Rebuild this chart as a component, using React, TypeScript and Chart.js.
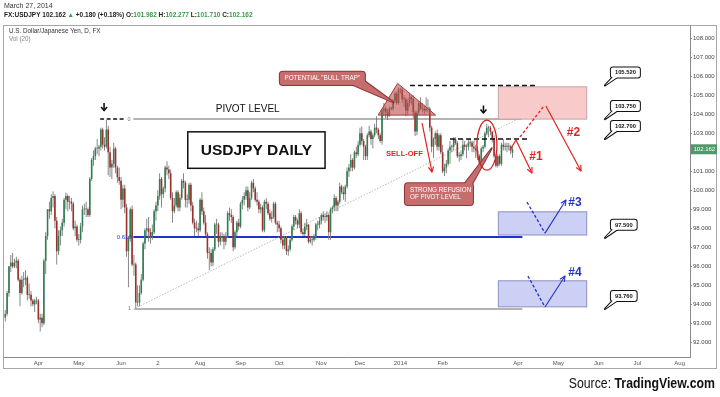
import React, { useEffect, useRef } from "react";
import { Chart, registerables } from "chart.js";

Chart.register(...registerables);

// ---------- DATA ----------
// bar index 0 = 1 Apr 2013 (one bar per weekday); first bar = 6 Mar 2013
const firstBarIndex = -18;

const opens = [
  // Mar 2013
  93.30,93.50,94.60,96.00,96.20,96.00,96.20,96.30,95.30,94.60,95.30,95.30,95.40,94.50,94.50,94.20,94.00,94.20,
  // Apr
  94.20,93.20,93.30,93.00,96.30,97.60,99.00,98.90,99.60,99.70,98.40,96.80,97.60,97.90,98.30,99.50,99.70,99.40,99.40,99.30,98.00,98.10,
  // May
  97.40,97.40,98.10,99.00,99.00,99.00,98.70,100.60,101.60,101.80,102.20,102.20,102.30,103.20,102.40,102.30,103.20,102.00,101.20,101.40,102.20,101.20,100.70,
  // Jun
  100.50,99.50,100.10,99.10,96.80,97.50,99.00,96.10,96.10,94.10,94.10,94.60,95.30,97.20,97.90,98.00,97.80,97.60,97.80,98.90,
  // Jul
  99.20,99.70,100.60,99.80,100.10,101.20,101.10,100.90,99.60,98.90,99.20,99.90,99.10,99.60,100.50,100.40,99.50,99.50,100.30,99.20,98.30,98.00,98.00,
  // Aug
  97.90,99.50,98.90,98.30,97.70,96.70,96.70,96.20,96.90,98.20,98.20,97.30,97.50,97.60,97.30,97.60,98.80,98.70,98.60,97.00,97.80,98.30,
  // Sep
  98.10,99.30,99.50,99.70,100.00,99.10,99.60,100.40,100.10,99.50,99.40,99.00,99.10,97.90,99.40,99.30,98.80,98.50,98.60,99.30,98.30,
  // Oct
  98.20,98.00,97.40,97.10,97.50,96.80,96.90,97.40,98.10,98.60,98.40,98.20,98.80,97.80,97.70,98.10,98.20,97.30,97.40,97.40,97.50,98.20,98.20,
  // Nov
  98.40,98.70,98.60,98.60,98.70,97.80,99.00,99.10,99.60,99.20,99.40,100.20,99.90,99.80,100.20,101.00,101.20,101.60,101.20,102.00,101.90,
  // Dec
  102.40,103.00,102.60,102.30,101.80,102.90,103.10,102.70,102.90,103.30,103.20,102.90,102.60,104.20,104.30,104.10,103.90,104.30,104.30,104.70,105.10,104.60,
  // Jan 2014
  105.30,105.30,104.80,104.80,104.20,104.60,104.90,104.80,104.10,103.10,104.10,104.60,104.30,104.30,104.20,104.30,104.30,103.30,102.30,102.70,103.00,102.30,102.90,
  // Feb
  102.00,101.00,101.20,101.40,102.10,102.30,102.30,102.70,102.50,101.80,101.80,101.90,102.40,102.30,102.30,102.50,102.50,102.30,102.20,102.10,
  // Mar
  101.80,101.40,102.20,102.30,103.00,103.30,103.30,103.10,102.70,101.80,101.30,101.80,101.40,102.40,102.30,102.30,102.30,102.30,101.98,
];

const highs = [
  93.70,94.70,96.00,96.60,96.70,96.40,96.50,96.40,95.40,95.50,95.70,95.80,95.50,95.10,94.70,94.30,94.30,94.40,
  94.30,93.50,93.50,96.40,97.80,99.00,99.40,99.80,99.95,99.80,98.60,97.90,98.10,98.50,99.60,99.89,99.80,99.70,99.60,99.40,98.40,98.20,
  97.70,98.30,99.20,99.30,99.40,99.10,100.70,101.70,102.10,102.30,102.70,102.40,103.30,103.30,102.80,103.70,103.40,102.30,101.60,102.50,102.30,101.30,101.20,
  100.70,100.30,100.30,99.30,97.60,99.10,99.20,96.60,96.20,95.00,95.00,95.60,97.30,98.00,98.50,98.60,98.00,98.20,99.00,99.40,
  100.00,100.90,100.70,100.20,101.30,101.53,101.30,101.10,99.90,99.60,100.00,100.00,99.80,100.60,100.90,100.50,99.80,100.40,100.40,99.40,98.50,98.40,98.30,
  99.60,99.90,99.10,98.70,97.80,97.00,96.90,97.00,98.30,98.50,98.30,97.80,97.80,97.70,97.80,98.90,99.10,99.00,98.70,97.90,98.40,98.50,
  99.40,99.70,99.90,100.20,100.20,99.90,100.50,100.60,100.20,99.90,99.50,99.30,99.20,99.50,99.60,99.40,99.00,98.90,99.40,99.40,98.40,
  98.40,98.10,97.60,97.60,97.60,97.10,97.50,98.20,98.70,98.70,98.50,99.00,98.90,98.00,98.30,98.50,98.20,97.60,97.60,97.70,98.30,98.40,98.60,
  98.80,98.90,98.80,98.90,98.80,99.10,99.20,99.80,99.70,99.50,100.40,100.30,100.20,100.30,101.20,101.40,101.90,101.70,102.10,102.30,102.60,
  103.30,103.38,102.70,102.40,103.00,103.40,103.20,103.00,103.50,103.90,103.30,103.00,104.30,104.60,104.40,104.30,104.40,104.40,104.80,105.20,105.20,105.40,
  105.40,105.44,105.00,104.90,104.80,105.10,105.00,105.00,104.20,104.20,104.70,104.90,104.60,104.50,104.90,104.80,104.40,103.40,102.80,103.10,103.20,103.00,103.00,
  102.40,101.40,101.60,102.20,102.60,102.40,102.80,102.80,102.60,102.00,102.10,102.70,102.60,102.40,102.70,102.70,102.60,102.60,102.40,102.30,
  101.90,102.30,102.40,103.10,103.50,103.40,103.40,103.10,102.90,101.90,101.90,101.90,102.50,102.70,102.50,102.50,102.50,102.40,102.28,
];

const lows = [
  93.10,93.40,94.40,95.70,95.90,95.90,95.90,95.20,93.90,94.50,94.90,95.00,94.20,94.30,93.90,93.90,93.60,94.00,
  93.00,92.57,92.80,92.90,95.60,97.40,98.50,98.70,99.10,98.00,96.10,96.60,97.10,97.60,98.10,99.00,98.90,99.00,98.90,97.90,97.60,97.30,
  97.10,97.20,97.80,98.70,98.60,98.60,98.60,100.50,101.30,101.60,101.90,101.80,102.10,102.20,102.10,102.20,100.80,100.70,100.60,101.20,100.90,100.40,100.30,
  99.00,99.10,98.80,96.50,94.90,97.30,96.00,95.50,93.80,93.90,93.90,94.50,95.20,96.90,97.60,97.30,97.20,97.40,97.70,98.40,
  98.90,99.50,99.10,99.60,99.90,100.80,100.60,99.50,98.30,98.80,99.10,98.90,98.90,99.50,100.10,99.10,99.10,99.30,98.90,98.20,97.60,97.80,97.60,
  97.80,98.70,98.20,97.60,96.40,95.80,96.00,96.00,96.80,97.70,97.00,97.10,97.30,96.90,97.10,97.50,98.40,98.30,96.80,96.90,97.60,97.90,
  98.00,99.00,99.20,99.50,98.90,99.00,99.50,99.90,99.40,99.20,98.80,98.80,97.80,97.80,99.00,98.70,98.40,98.30,98.50,98.20,97.80,
  97.80,97.20,96.90,96.90,96.60,96.56,96.80,97.30,97.90,98.20,98.00,98.00,97.70,97.60,97.60,97.90,97.20,97.20,97.10,97.30,97.40,97.90,98.00,
  98.20,98.40,98.30,98.40,97.40,97.40,98.80,98.90,98.90,98.90,99.30,99.80,99.50,99.40,100.10,100.70,101.00,101.00,101.10,101.70,101.80,
  102.30,102.40,101.60,101.60,101.60,102.80,102.40,102.20,102.80,103.00,102.70,102.50,102.40,103.90,103.80,103.70,103.90,104.20,104.20,104.60,104.50,104.50,
  105.10,104.60,104.40,103.90,104.00,104.40,104.50,103.80,102.86,102.90,104.00,104.20,104.10,104.00,104.10,104.10,103.10,102.00,101.70,102.40,102.10,102.10,101.90,
  100.90,100.76,100.90,101.30,101.40,102.00,102.10,102.40,101.70,101.50,101.60,101.80,102.10,101.70,102.10,102.30,102.00,102.00,101.70,101.60,
  101.20,101.30,102.00,102.20,102.90,102.80,102.90,102.50,101.70,101.20,101.20,101.30,101.30,102.10,102.10,102.00,102.10,101.90,101.71,
];

const closes = [
  93.50,94.60,96.00,96.20,96.00,96.20,96.30,95.30,94.60,95.30,95.30,95.40,94.50,94.50,94.20,94.00,94.20,94.20,
  93.20,93.30,93.00,96.30,97.60,99.00,98.90,99.60,99.70,98.40,96.80,97.60,97.90,98.30,99.50,99.70,99.40,99.40,99.30,98.00,98.10,97.40,
  97.40,98.10,99.00,99.00,99.00,98.70,100.60,101.60,101.80,102.20,102.20,102.30,103.20,102.40,102.30,103.20,102.00,101.20,101.40,102.20,101.20,100.70,100.50,
  99.50,100.10,99.10,96.80,97.50,99.00,96.10,96.10,94.10,94.10,94.60,95.30,97.20,97.90,98.00,97.80,97.60,97.80,98.90,99.20,
  99.70,100.60,99.80,100.10,101.20,101.10,100.90,99.60,98.90,99.20,99.90,99.10,99.60,100.50,100.40,99.50,99.50,100.30,99.20,98.30,98.00,98.00,97.90,
  99.50,98.90,98.30,97.70,96.70,96.70,96.20,96.90,98.20,98.20,97.30,97.50,97.60,97.30,97.60,98.80,98.70,98.60,97.00,97.80,98.30,98.10,
  99.30,99.50,99.70,100.00,99.10,99.60,100.40,100.10,99.50,99.40,99.00,99.10,97.90,99.40,99.30,98.80,98.50,98.60,99.30,98.30,98.20,
  98.00,97.40,97.10,97.50,96.80,96.90,97.40,98.10,98.60,98.40,98.20,98.80,97.80,97.70,98.10,98.20,97.30,97.40,97.40,97.50,98.20,98.20,98.40,
  98.70,98.60,98.60,98.70,97.80,99.00,99.10,99.60,99.20,99.40,100.20,99.90,99.80,100.20,101.00,101.20,101.60,101.20,102.00,101.90,102.40,
  103.00,102.60,102.30,101.80,102.90,103.10,102.70,102.90,103.30,103.20,102.90,102.60,104.20,104.30,104.10,103.90,104.30,104.30,104.70,105.10,104.60,105.30,
  105.30,104.80,104.80,104.20,104.60,104.90,104.80,104.10,103.10,104.10,104.60,104.30,104.30,104.20,104.30,104.30,103.30,102.30,102.70,103.00,102.30,102.90,102.00,
  101.00,101.20,101.40,102.10,102.30,102.30,102.70,102.50,101.80,101.80,101.90,102.40,102.30,102.30,102.50,102.50,102.30,102.20,102.10,101.80,
  101.40,102.20,102.30,103.00,103.30,103.30,103.10,102.70,101.80,101.30,101.80,101.40,102.40,102.30,102.30,102.30,102.30,102.10,102.16,
];

const monthTickIndex = [0, 22, 45, 65, 88, 110, 131, 154, 175, 197, 220, 261, 283, 305, 326, 349];
const monthTickLabel = ["Apr", "May", "Jun", "2", "Aug", "Sep", "Oct", "Nov", "Dec", "2014", "Feb", "Apr", "May", "Jun", "Jul", "Aug"];
const priceTicks = [92, 93, 94, 95, 96, 97, 98, 99, 100, 101, 102, 103, 104, 105, 106, 107, 108];

const levelValues = [105.52, 103.75, 102.70, 97.50, 93.76];
const levelLabels = ["105.520", "103.750", "102.700", "97.500", "93.760"];
const pivotLevel = 103.75;
const fib618 = 97.55;
const fibOne = 93.76;

const headerDate = "March 27, 2014";
const symbolName = "FX:USDJPY";
const lastPrice = 102.162;
const lastPriceText = "102.162";
const changeText = "+0.180 (+0.18%)";
const ohlcNames = ["O:", "H:", "L:", "C:"];
const ohlcValues = ["101.982", "102.277", "101.710", "102.162"];

// ---------- STYLE ----------
const SANS = "'Liberation Sans', Arial, Helvetica, sans-serif";
const UP = "#2f7d50";
const DOWN = "#9c2f2c";
const WICK = "#7a7a7a";
const RED = "#e02424";
const BLUE = "#2233c4";

type Pt = { x: number; y: number };

function strokePath(ctx: CanvasRenderingContext2D, pts: Pt[], color: string, width: number, dash: number[] = []) {
  ctx.save();
  ctx.beginPath();
  ctx.setLineDash(dash);
  ctx.strokeStyle = color;
  ctx.lineWidth = width;
  ctx.lineJoin = "round";
  pts.forEach((p, k) => (k ? ctx.lineTo(p.x, p.y) : ctx.moveTo(p.x, p.y)));
  ctx.stroke();
  ctx.restore();
}

function arrowHead(ctx: CanvasRenderingContext2D, from: Pt, to: Pt, color: string, width: number, size = 6) {
  const a = Math.atan2(to.y - from.y, to.x - from.x);
  strokePath(
    ctx,
    [
      { x: to.x - size * Math.cos(a - 0.45), y: to.y - size * Math.sin(a - 0.45) },
      to,
      { x: to.x - size * Math.cos(a + 0.45), y: to.y - size * Math.sin(a + 0.45) },
    ],
    color,
    width
  );
}

function label(ctx: CanvasRenderingContext2D, s: string, x: number, y: number, font: string, color: string, align: CanvasTextAlign = "left") {
  ctx.save();
  ctx.font = font;
  ctx.fillStyle = color;
  ctx.textAlign = align;
  ctx.textBaseline = "middle";
  ctx.fillText(s, x, y);
  ctx.restore();
}

function roundRectPath(ctx: CanvasRenderingContext2D, x: number, y: number, w: number, h: number, r: number) {
  ctx.beginPath();
  ctx.moveTo(x + r, y);
  ctx.lineTo(x + w - r, y);
  ctx.quadraticCurveTo(x + w, y, x + w, y + r);
  ctx.lineTo(x + w, y + h - r);
  ctx.quadraticCurveTo(x + w, y + h, x + w - r, y + h);
  ctx.lineTo(x + r, y + h);
  ctx.quadraticCurveTo(x, y + h, x, y + h - r);
  ctx.lineTo(x, y + r);
  ctx.quadraticCurveTo(x, y, x + r, y);
  ctx.closePath();
}

function bubble(ctx: CanvasRenderingContext2D, a: Pt, b: Pt, tail: Pt[], fill: string, border: string, r: number) {
  const x = Math.min(a.x, b.x), y = Math.min(a.y, b.y);
  const w = Math.abs(b.x - a.x), h = Math.abs(b.y - a.y);
  const tailPath = () => {
    ctx.beginPath();
    ctx.moveTo(tail[0].x, tail[0].y);
    ctx.lineTo(tail[1].x, tail[1].y);
    ctx.lineTo(tail[2].x, tail[2].y);
    ctx.closePath();
  };
  ctx.save();
  ctx.setLineDash([]);
  ctx.lineWidth = 2;
  ctx.strokeStyle = border;
  ctx.lineJoin = "round";
  roundRectPath(ctx, x, y, w, h, r);
  ctx.stroke();
  tailPath();
  ctx.stroke();
  ctx.fillStyle = fill;
  roundRectPath(ctx, x, y, w, h, r);
  ctx.fill();
  tailPath();
  ctx.fill();
  ctx.restore();
  return { x, y, w, h };
}

function box(ctx: CanvasRenderingContext2D, a: Pt, b: Pt, fill: string, border: string, width: number) {
  const x = Math.min(a.x, b.x), y = Math.min(a.y, b.y);
  const w = Math.abs(b.x - a.x), h = Math.abs(b.y - a.y);
  ctx.save();
  ctx.fillStyle = fill;
  ctx.fillRect(x, y, w, h);
  ctx.strokeStyle = border;
  ctx.lineWidth = width;
  ctx.strokeRect(x, y, w, h);
  ctx.restore();
  return { x, y, w, h };
}

function downArrow(ctx: CanvasRenderingContext2D, tip: Pt) {
  strokePath(ctx, [{ x: tip.x, y: tip.y - 7.5 }, tip], "#111", 1.6);
  strokePath(ctx, [{ x: tip.x - 3, y: tip.y - 3.5 }, tip, { x: tip.x + 3, y: tip.y - 3.5 }], "#111", 1.6);
}

const annotations = {
  id: "annotations",
  beforeDraw(chart: any) {
    const ctx = chart.ctx as CanvasRenderingContext2D;
    ctx.save();
    ctx.fillStyle = "#ffffff";
    ctx.fillRect(0, 0, chart.width, chart.height);
    ctx.restore();
  },
  beforeDatasetsDraw(chart: any) {
    const ctx = chart.ctx as CanvasRenderingContext2D;
    const X = (v: number) => chart.scales.x.getPixelForValue(v);
    const Y = (v: number) => chart.scales.y.getPixelForValue(v);
    const P = (i: number, p: number): Pt => ({ x: X(i), y: Y(p) });

    // level lines
    strokePath(ctx, [P(51.7, pivotLevel), P(263.2, pivotLevel)], "#9a9a9a", 1.5);
    strokePath(ctx, [P(51.7, fib618), P(263.4, fib618)], "#1f30d4", 2);
    strokePath(ctx, [P(52.2, fibOne), P(263.4, fibOne)], "#9a9a9a", 1.5);
    strokePath(ctx, [P(52.6, 93.79), P(263.2, 103.86)], "#a8a8a8", 0.8, [1.5, 1.5]);

    // target boxes
    box(ctx, P(250.3, 105.45), P(298.4, pivotLevel), "#f9caca", "#c9a3a3", 1);
    box(ctx, P(250.3, 98.87), P(298.4, 97.65), "#cdd0f5", "#8c90bf", 1);
    box(ctx, P(250.3, 95.24), P(298.4, 93.87), "#cdd0f5", "#8c90bf", 1);
  },
  afterDatasetsDraw(chart: any) {
    const ctx = chart.ctx as CanvasRenderingContext2D;
    const X = (v: number) => chart.scales.x.getPixelForValue(v);
    const Y = (v: number) => chart.scales.y.getPixelForValue(v);
    const P = (i: number, p: number): Pt => ({ x: X(i), y: Y(p) });

    // pivot marks
    strokePath(ctx, [P(33.6, pivotLevel), P(47.7, pivotLevel)], "#111", 1.5, [4, 2.5]);
    label(ctx, "0", X(49.4), Y(pivotLevel), `5.5px ${SANS}`, "#777", "center");
    label(ctx, "PIVOT LEVEL", X(113.9), Y(104.27), `10px ${SANS}`, "#111", "center");
    label(ctx, "0.618", X(50.8), Y(fib618), `6px ${SANS}`, "#2a3bd0", "right");
    label(ctx, "1", X(49.6), Y(fibOne), `5.5px ${SANS}`, "#777", "center");
    downArrow(ctx, P(35.75, 104.2));
    downArrow(ctx, P(242.2, 104.07));

    // title box
    const tb = box(ctx, P(81.3, 103.08), P(156, 101.16), "#ffffff", "#111", 1.5);
    label(ctx, "USDJPY DAILY", tb.x + tb.w / 2, tb.y + tb.h / 2 + 0.5, `bold 15.5px ${SANS}`, "#111", "center");

    // bull trap triangle
    const t1 = P(184.9, 103.96), t2 = P(195.5, 105.63), t3 = P(216.2, 103.96);
    ctx.save();
    ctx.beginPath();
    ctx.moveTo(t1.x, t1.y);
    ctx.lineTo(t2.x, t2.y);
    ctx.lineTo(t3.x, t3.y);
    ctx.closePath();
    ctx.fillStyle = "rgba(190,75,75,0.6)";
    ctx.fill();
    ctx.strokeStyle = "#a04040";
    ctx.lineWidth = 1;
    ctx.stroke();
    ctx.restore();

    // dashed resistance lines
    strokePath(ctx, [P(202.2, levelValues[0]), P(270.2, levelValues[0])], "#111", 1.5, [5, 3]);
    strokePath(ctx, [P(224, levelValues[2]), P(267.5, levelValues[2])], "#111", 1.5, [5, 3]);

    // callouts
    const b1 = bubble(
      ctx,
      P(131.4, 106.24),
      P(177.7, 105.54),
      [P(169.5, 105.62), P(193.3, 104.63), P(176.8, 105.8)],
      "#c76d6d",
      "#8e3434",
      3
    );
    label(ctx, 'POTENTIAL "BULL TRAP"', b1.x + b1.w / 2, b1.y + b1.h / 2, `6.3px ${SANS}`, "#ffffff", "center");

    const b2 = bubble(
      ctx,
      P(199.5, 100.38),
      P(236.5, 99.23),
      [P(231.6, 100.3), P(246.7, 102.21), P(235.8, 100.3)],
      "#c76d6d",
      "#8e3434",
      3
    );
    label(ctx, "STRONG REFUSION", b2.x + 5, b2.y + 7.5, `6.3px ${SANS}`, "#ffffff");
    label(ctx, "OF PIVOT LEVEL", b2.x + 5, b2.y + 14, `6.3px ${SANS}`, "#ffffff");

    // ellipse
    const ec = P(244.1, 102.38);
    const erx = X(249.54) - X(244.1);
    const ery = Y(101.06) - Y(102.38);
    ctx.save();
    ctx.beginPath();
    ctx.ellipse(ec.x, ec.y, erx, ery, 0, 0, Math.PI * 2);
    ctx.strokeStyle = "#d42020";
    ctx.lineWidth = 1.3;
    ctx.stroke();
    ctx.restore();

    // sell-off
    label(ctx, "SELL-OFF", X(199.2), Y(101.91), `bold 7.5px ${SANS}`, RED, "center");
    const s0 = P(208.8, 103.54), s1 = P(214.2, 100.96);
    strokePath(ctx, [s0, s1], RED, 1.2);
    arrowHead(ctx, s0, s1, RED, 1.2);

    // scenario #1
    const a0 = P(256.6, 102.12), a1 = P(259.9, 102.65), a2 = P(268.6, 100.91);
    strokePath(ctx, [a0, a1, a2], RED, 1.2);
    arrowHead(ctx, a1, a2, RED, 1.2);
    label(ctx, "#1", X(270.8), Y(101.75), `bold 12px ${SANS}`, RED, "center");

    // scenario #2
    strokePath(ctx, [P(262.1, 102.81), P(275.1, 104.44)], RED, 1.3, [3, 2]);
    const c0 = P(276.2, 104.44), c1 = P(295.3, 101.02);
    strokePath(ctx, [c0, c1], RED, 1.2);
    arrowHead(ctx, c0, c1, RED, 1.2);
    label(ctx, "#2", X(291.2), Y(103.02), `bold 12px ${SANS}`, RED, "center");

    // scenario #3
    strokePath(ctx, [P(265.9, 99.38), P(275.7, 97.75)], BLUE, 1.3, [3, 2]);
    const d0 = P(275.7, 97.75), d1 = P(287.1, 99.49);
    strokePath(ctx, [d0, d1], BLUE, 1.1);
    arrowHead(ctx, d0, d1, BLUE, 1.1);
    label(ctx, "#3", X(292), Y(99.33), `bold 12px ${SANS}`, BLUE, "center");

    // scenario #4
    strokePath(ctx, [P(266.4, 95.49), P(275.7, 93.86)], BLUE, 1.3, [3, 2]);
    const e0 = P(275.7, 93.86), e1 = P(286.6, 95.49);
    strokePath(ctx, [e0, e1], BLUE, 1.1);
    arrowHead(ctx, e0, e1, BLUE, 1.1);
    label(ctx, "#4", X(292), Y(95.66), `bold 12px ${SANS}`, BLUE, "center");

    // right-hand price callouts
    levelValues.forEach((v, k) => {
      const tip = P(308.3, v);
      ctx.save();
      ctx.font = `bold 5.8px ${SANS}`;
      const tw = ctx.measureText(levelLabels[k]).width;
      ctx.restore();
      const bx = tip.x + 6, by = tip.y - 18, bw = tw + 8, bh = 10;
      const bb = bubble(
        ctx,
        { x: bx, y: by },
        { x: bx + bw, y: by + bh },
        [{ x: bx + 3, y: by + bh - 1.5 }, tip, { x: bx + 8, y: by + bh - 1.5 }],
        "#ffffff",
        "#111111",
        2
      );
      label(ctx, levelLabels[k], bb.x + bb.w / 2, bb.y + bb.h / 2 + 0.3, `bold 5.8px ${SANS}`, "#111", "center");
    });
  },
  afterDraw(chart: any) {
    const ctx = chart.ctx as CanvasRenderingContext2D;
    const Y = (v: number) => chart.scales.y.getPixelForValue(v);

    // frame
    ctx.save();
    ctx.strokeStyle = "#a6a6a6";
    ctx.lineWidth = 1;
    ctx.strokeRect(3.5, 25.5, 713, 343);
    ctx.restore();

    // header
    label(ctx, headerDate, 4, 6, `7px ${SANS}`, "#333");
    const bold = `bold 6.5px ${SANS}`;
    const green = "#3a9a4a";
    const segs: [string, string][] = [
      [`${symbolName} ${lastPriceText} `, "#222"],
      ["\u25B2 ", green],
      [`${changeText} `, "#222"],
    ];
    ohlcNames.forEach((n, k) => {
      segs.push([n, "#222"]);
      segs.push([ohlcValues[k] + (k < 3 ? " " : ""), green]);
    });
    ctx.save();
    ctx.font = bold;
    let hx = 4;
    segs.forEach(([s, c]) => {
      label(ctx, s, hx, 15.5, bold, c);
      hx += ctx.measureText(s).width;
    });
    ctx.restore();

    label(ctx, "U.S. Dollar/Japanese Yen, D, FX", 9, 30.8, `6.3px ${SANS}`, "#333");
    label(ctx, "Vol (20)", 9, 39.5, `6.3px ${SANS}`, "#888");

    // last price tag
    const py = Y(lastPrice);
    ctx.save();
    ctx.fillStyle = "#4f9a6b";
    ctx.fillRect(691, py - 5, 26, 10);
    ctx.restore();
    label(ctx, lastPriceText, 693.5, py + 0.3, `6px ${SANS}`, "#ffffff");

    // source
    ctx.save();
    ctx.translate(715, 388);
    ctx.scale(0.82, 1);
    ctx.fillStyle = "#111";
    ctx.textAlign = "right";
    ctx.textBaseline = "alphabetic";
    ctx.font = `bold 15px ${SANS}`;
    const w2 = ctx.measureText("TradingView.com").width;
    ctx.fillText("TradingView.com", 0, 0);
    ctx.font = `15px ${SANS}`;
    ctx.fillText("Source: ", -w2, 0);
    ctx.restore();
  },
};

export default function App() {
  const ref = useRef<HTMLCanvasElement>(null);

  useEffect(() => {
    document.body.style.margin = "0";
    const canvas = ref.current;
    if (!canvas) return;
    Chart.defaults.font.family = SANS;

    const idx = opens.map((_, i) => firstBarIndex + i);
    const wickData = idx.map((x, i) => ({ x, y: [lows[i], highs[i]] }));
    const bodyData = idx.map((x, i) => ({ x, y: [opens[i], closes[i]] }));
    const bodyColors = idx.map((_, i) => (closes[i] >= opens[i] ? UP : DOWN));

    const chart = new Chart(canvas, {
      type: "bar",
      data: {
        datasets: [
          {
            data: wickData as any,
            backgroundColor: WICK,
            barThickness: 0.9,
            grouped: false,
            inflateAmount: 0,
            order: 2,
          } as any,
          {
            data: bodyData as any,
            backgroundColor: bodyColors,
            barThickness: 1.6,
            grouped: false,
            inflateAmount: 0,
            minBarLength: 0.8,
            order: 1,
          } as any,
        ],
      },
      options: {
        responsive: false,
        animation: false,
        devicePixelRatio: 1,
        layout: { padding: { left: 4, top: 26, right: 0, bottom: 28 } },
        plugins: { legend: { display: false }, tooltip: { enabled: false }, title: { display: false } },
        events: [],
        scales: {
          x: {
            type: "linear",
            min: -18.7,
            max: 354.6,
            offset: false,
            grid: { display: false, drawTicks: false, offset: false },
            border: { display: true, color: "#8a8a8a" },
            afterBuildTicks: (axis: any) => {
              axis.ticks = monthTickIndex.map((v) => ({ value: v }));
            },
            afterFit: (axis: any) => {
              axis.height = 12;
            },
            ticks: {
              autoSkip: false,
              maxRotation: 0,
              padding: 3,
              color: "#555",
              font: { size: 6, family: SANS },
              callback: (value: any) => {
                const k = monthTickIndex.indexOf(Number(value));
                return k >= 0 ? monthTickLabel[k] : "";
              },
            },
          },
          y: {
            type: "linear",
            position: "right",
            min: 91.23,
            max: 108.65,
            grid: { display: true, drawOnChartArea: false, drawTicks: true, tickLength: 2, color: "#8a8a8a" },
            border: { display: true, color: "#8a8a8a" },
            afterBuildTicks: (axis: any) => {
              axis.ticks = priceTicks.map((v) => ({ value: v }));
            },
            afterFit: (axis: any) => {
              axis.width = 30;
            },
            ticks: {
              padding: 1,
              color: "#444",
              font: { size: 6, family: SANS },
              callback: (value: any) => Number(value).toFixed(3),
            },
          },
        },
      } as any,
      plugins: [annotations],
    });

    return () => chart.destroy();
  }, []);

  return (
    <div style={{ width: 720, height: 397 }}>
      <canvas ref={ref} width={720} height={397} style={{ display: "block", width: 720, height: 397 }} />
    </div>
  );
}
